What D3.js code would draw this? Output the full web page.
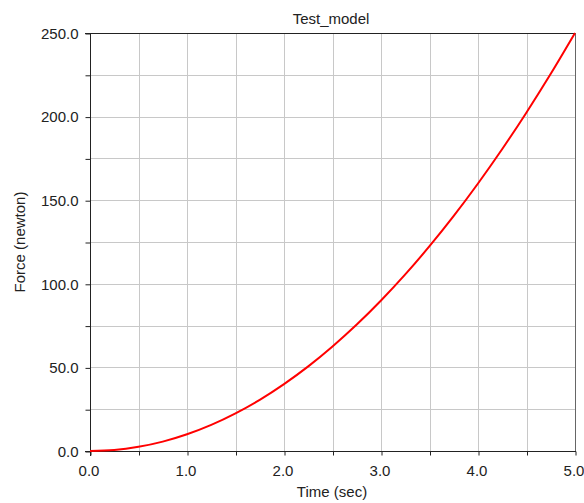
<!DOCTYPE html>
<html>
<head>
<meta charset="utf-8">
<script src="https://cdn.jsdelivr.net/npm/d3@7"></script>
<style>
  html, body { margin: 0; padding: 0; background: #fff; }
  svg { display: block; font-family: "Liberation Sans", Arial, sans-serif; }
</style>
</head>
<body>
<svg id="chart" width="584" height="503"></svg>
<script>
// Force response of Test_model over time
const time  = [0, 0.25, 0.5, 0.75, 1.0, 1.25, 1.5, 1.75, 2.0, 2.25, 2.5, 2.75, 3.0, 3.25, 3.5, 3.75, 4.0, 4.25, 4.5, 4.75, 5.0];
const force = [0, 0.6, 2.5, 5.6, 10, 15.6, 22.5, 30.6, 40, 50.6, 62.5, 75.6, 90, 105.6, 122.5, 140.6, 160, 180.6, 202.5, 225.6, 250];

const xTicks = [0, 0.5, 1.0, 1.5, 2.0, 2.5, 3.0, 3.5, 4.0, 4.5, 5.0];
const yTicks = [0, 25, 50, 75, 100, 125, 150, 175, 200, 225, 250];
const xLabelled = [0, 1, 2, 3, 4, 5];
const yLabelled = [0, 50, 100, 150, 200, 250];

const title = "Test_model";
const xTitle = "Time (sec)";
const yTitle = "Force (newton)";

const plotLeft = 90, plotRight = 575, plotTop = 33, plotBottom = 451;

const svg = d3.select("#chart");
const x = d3.scaleLinear().domain([0, 5]).range([plotLeft, plotRight]);
const y = d3.scaleLinear().domain([0, 250]).range([plotBottom, plotTop]);

// grid
const grid = svg.append("g").attr("stroke", "#c8c8c8").attr("stroke-width", 1);
grid.selectAll("line.v").data(xTicks.slice(1, -1)).join("line")
  .attr("x1", d => Math.round(x(d)) + 0.5).attr("x2", d => Math.round(x(d)) + 0.5)
  .attr("y1", plotTop).attr("y2", plotBottom);
grid.selectAll("line.h").data(yTicks.slice(1, -1)).join("line")
  .attr("y1", d => Math.round(y(d)) + 0.5).attr("y2", d => Math.round(y(d)) + 0.5)
  .attr("x1", plotLeft).attr("x2", plotRight);

const fmt = d3.format(".1f");

// axes
const yAxis = d3.axisLeft(y).tickValues(yTicks).tickSize(5).tickPadding(7)
  .tickFormat(d => yLabelled.includes(d) ? fmt(d) : "");
const yg = svg.append("g").attr("transform", `translate(${plotLeft + 0.5},0.5)`).call(yAxis);

const xAxis = d3.axisBottom(x).tickValues(xTicks).tickSize(4).tickPadding(10)
  .tickFormat(d => xLabelled.includes(d) ? fmt(d) : "");
const xg = svg.append("g").attr("transform", `translate(0.5,${plotBottom + 0.5})`).call(xAxis);

[yg, xg].forEach(g => {
  g.select(".domain").remove();
  g.selectAll(".tick line").attr("stroke", "#222");
  g.selectAll(".tick text").attr("fill", "#222").style("font-size", "15px")
    .style("font-family", "'Liberation Sans', Arial, sans-serif");
});
// labels sit a little left of their ticks so the last one stays inside the page
xg.selectAll(".tick text").attr("dx", -2);

// frame
const frame = svg.append("g").attr("stroke-width", 1);
frame.append("line").attr("x1", plotLeft + 0.5).attr("x2", plotLeft + 0.5).attr("y1", plotTop).attr("y2", plotBottom + 5).attr("stroke", "#222");
frame.append("line").attr("x1", plotLeft - 5).attr("x2", plotRight + 1).attr("y1", plotBottom + 0.5).attr("y2", plotBottom + 0.5).attr("stroke", "#222");
frame.append("line").attr("x1", plotLeft - 5).attr("x2", plotRight + 1).attr("y1", plotTop + 0.5).attr("y2", plotTop + 0.5).attr("stroke", "#222");
frame.append("line").attr("x1", plotRight + 0.5).attr("x2", plotRight + 0.5).attr("y1", plotTop).attr("y2", plotBottom).attr("stroke", "#666");

// force curve
const line = d3.line().x((d, i) => x(time[i])).y(d => y(d)).curve(d3.curveMonotoneX);
svg.append("path").datum(force)
  .attr("d", line).attr("fill", "none")
  .attr("stroke", "#ff0000").attr("stroke-width", 2);

// titles
svg.append("text").attr("x", 331).attr("y", 24).attr("text-anchor", "middle")
  .attr("fill", "#222").style("font-size", "15px").text(title);
svg.append("text").attr("x", 332).attr("y", 497).attr("text-anchor", "middle")
  .attr("fill", "#222").style("font-size", "15px").text(xTitle);
svg.append("text").attr("transform", `translate(25,${(plotTop + plotBottom) / 2}) rotate(-90)`)
  .attr("text-anchor", "middle").attr("fill", "#222").style("font-size", "15px").text(yTitle);
</script>
</body>
</html>
